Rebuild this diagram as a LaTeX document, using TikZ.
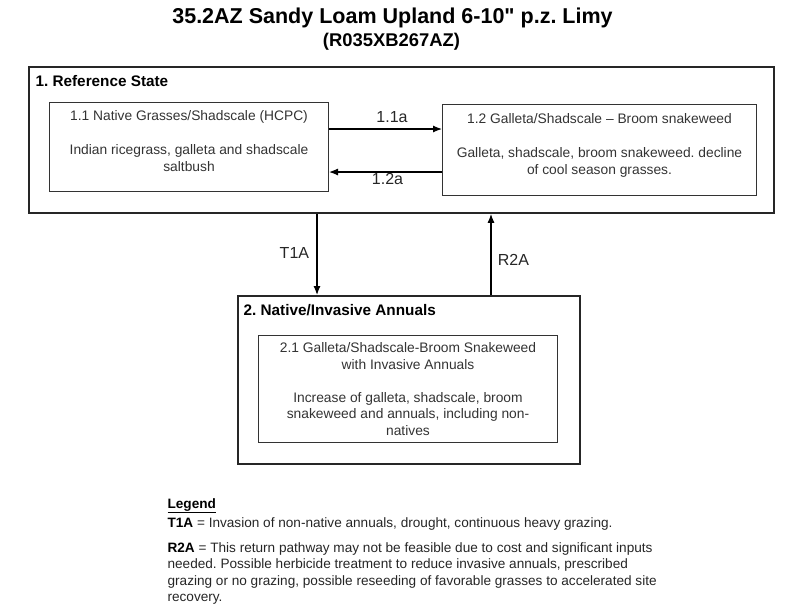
\documentclass[tikz,border=0pt]{standalone}
\usepackage{fontspec}
\setmainfont{Liberation Sans}[Ligatures=TeXOff]
\usetikzlibrary{positioning,arrows.meta}
\frenchspacing
\tikzset{
mystate/.style={
  draw=black!85,
  line width=1.8pt,
  anchor=north west,
  inner sep=0pt
  },
mybox/.style={
  draw=black!80,
  line width=1pt,
  anchor=north west,
  align=center,
  text=black!80,
  font=\fontsize{13.8}{16.5}\selectfont
  },
mytag/.style={
  text=black!85,
  font=\fontsize{16}{18}\selectfont
  },
myhead/.style={
  anchor=base west,
  inner sep=0pt,
  font=\bfseries\fontsize{15.3}{18}\selectfont
  },
mylegend/.style={
  anchor=base west,
  inner sep=0pt,
  align=left,
  text=black!85,
  font=\fontsize{13.6}{16.5}\selectfont
  }
}

\begin{document}
\begin{tikzpicture}[>={Latex[length=9pt,width=7pt]}, x=1pt, y=-1pt, line width=1.2pt]
\useasboundingbox (0,0) rectangle (800,608);

\node[anchor=base, font=\bfseries\fontsize{21.5}{24}\selectfont]
  (title) at (392.5,23.5) {35.2AZ Sandy Loam Upland 6-10" p.z. Limy};
\node[anchor=base, font=\bfseries\fontsize{18.4}{20}\selectfont]
  (subtitle) at (391.5,46) {(R035XB267AZ)};

\node[mystate, minimum width=745, minimum height=146]
  at (28,66) (ref) {};
\node[myhead] at (35,86) (refhead) {1. Reference State};

\node[mybox, minimum width=279, minimum height=89]
  at (49,102)
  (p11)
  {1.1 Native Grasses/Shadscale (HCPC)\\[17.5pt]
   Indian ricegrass, galleta and shadscale\\
   saltbush\rule[-12pt]{0pt}{0pt}};
\node[mybox, minimum width=314, minimum height=91]
  at (442,104)
  (p12)
  {1.2 Galleta/Shadscale \textendash{} Broom snakeweed\\[17.5pt]
   Galleta, shadscale, broom snakeweed. decline\\
   of cool season grasses.\rule[-12pt]{0pt}{0pt}};

\node[mystate, minimum width=342, minimum height=168]
  at (237,295) (na) {};
\node[myhead] at (243,315) (nahead) {2. Native/Invasive Annuals};

\node[mybox, minimum width=299, minimum height=107]
  at (258,335)
  (p21)
  {2.1 Galleta/Shadscale-Broom Snakeweed\\
   with Invasive Annuals\\[16.5pt]
   Increase of galleta, shadscale, broom\\
   snakeweed and annuals, including non-\\
   natives};

\coordinate (go) at ([yshift=-27pt]p11.north east);
\coordinate (back) at ([yshift=24pt]p12.south west);
\coordinate (t1a) at ([xshift=80pt]na.north west);
\coordinate (r2a) at ([xshift=254pt]na.north west);

\draw[->] (go) -- (go -| p12.west);
\draw[->] (back) -- (back -| p11.east);
\draw[->] (t1a |- ref.south) -- (t1a);
\draw[->] (r2a) -- (r2a |- ref.south);

\node[mytag, anchor=base] at (392,122) (lab11a) {1.1a};
\node[mytag, anchor=base] at (387.5,184) (lab12a) {1.2a};
\node[mytag, anchor=base east] at (313,258) (labt1a) {T1A};
\node[mytag, anchor=base west] at (494,265) (labr2a) {R2A};

\node[myhead, font=\bfseries\fontsize{13.6}{16}\selectfont]
  at (167,508) (legend) {\underline{Legend}};
\node[mylegend] at (167,527) (t1aitem)
  {\textbf{\color{black}T1A} = Invasion of non-native annuals, drought, continuous heavy grazing.};
\node[mylegend] at (167,601.5) (r2aitem)
  {\textbf{\color{black}R2A} = This return pathway may not be feasible due to cost and significant inputs\\
   needed. Possible herbicide treatment to reduce invasive annuals, prescribed\\
   grazing or no grazing, possible reseeding of favorable grasses to accelerated site\\
   recovery.};
\end{tikzpicture}
\end{document}
